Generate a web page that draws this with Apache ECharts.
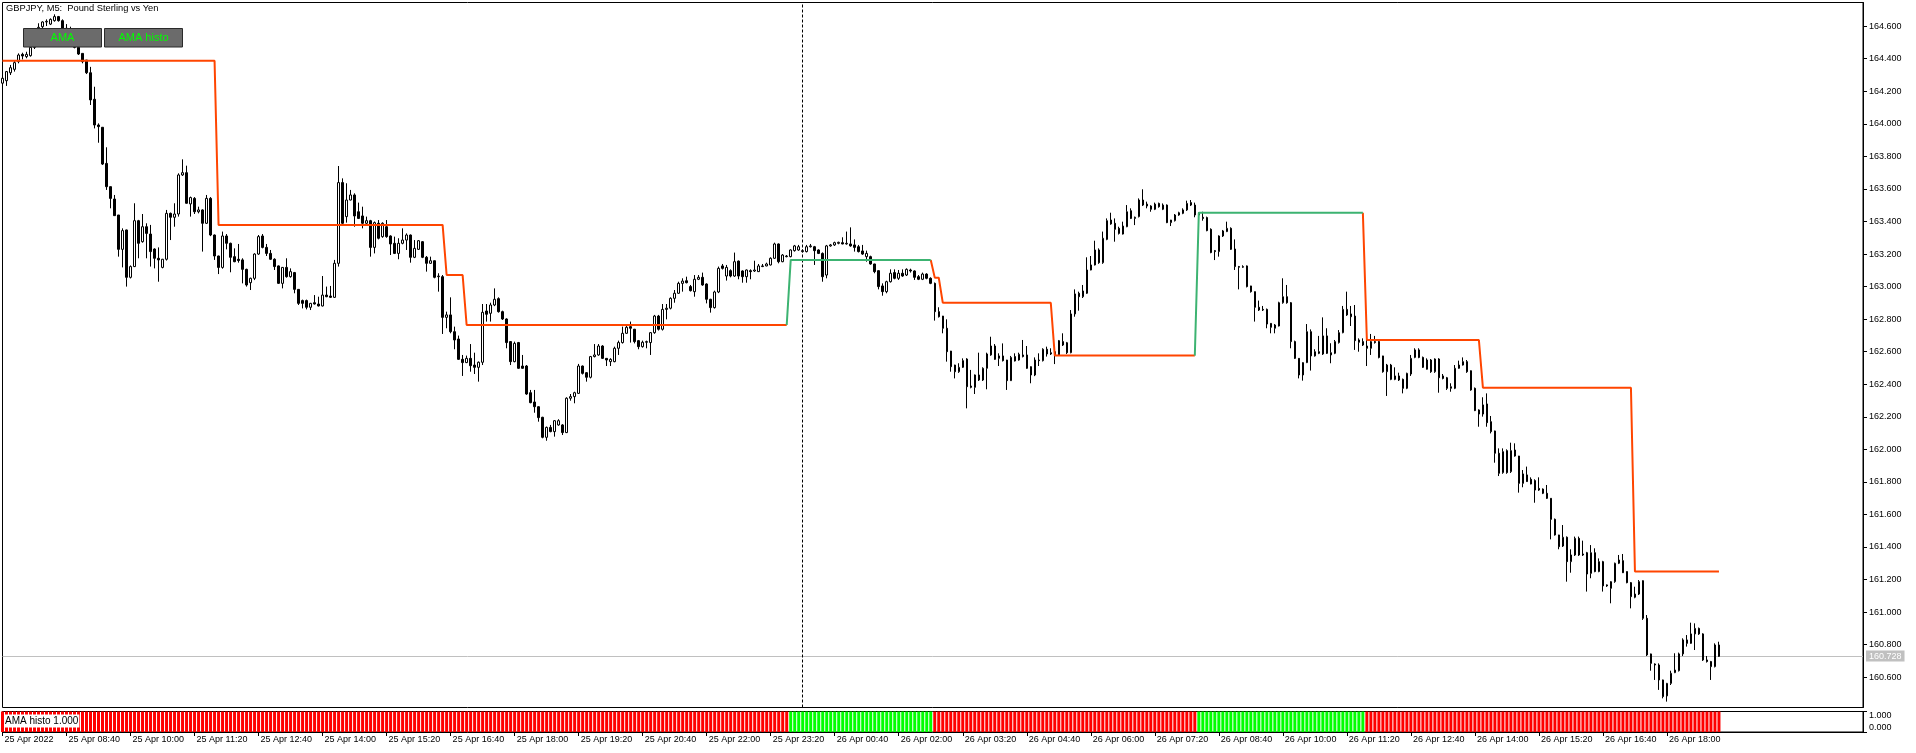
<!DOCTYPE html>
<html><head><meta charset="utf-8">
<script src="https://cdn.jsdelivr.net/npm/echarts@6/dist/echarts.min.js"></script>
<style>html,body{margin:0;padding:0;background:#fff;overflow:hidden}#c{width:1916px;height:753px}</style>
</head><body><div id="c"></div>
<script>
// ---- data (GBPJPY M5, one entry per bar) ----
const opens = [
164.250,164.265,164.314,164.335,164.382,164.427,164.413,164.419,164.470,164.577,
164.597,164.626,164.613,164.634,164.659,164.634,164.587,164.577,164.536,164.470,
164.433,164.392,164.314,164.151,163.993,163.979,163.757,163.614,163.538,163.440,
163.229,163.348,163.057,163.123,163.405,163.276,163.368,163.323,163.231,163.174,
163.118,163.168,163.450,163.426,163.446,163.686,163.700,163.508,163.542,163.460,
163.471,163.389,163.542,163.317,163.188,163.118,163.311,163.266,163.184,163.168,
163.164,163.106,163.024,163.051,163.200,163.311,163.241,163.204,163.168,163.127,
163.020,163.118,163.061,163.086,162.983,162.914,162.914,162.873,162.901,162.893,
162.881,162.948,162.942,162.934,163.143,163.639,163.430,163.532,163.563,163.460,
163.434,163.389,163.405,163.241,163.389,163.307,163.368,163.311,163.266,163.204,
163.266,163.286,163.317,163.180,163.229,163.276,163.180,163.143,163.159,163.061,
163.061,162.811,162.826,162.723,162.678,162.553,162.533,162.559,162.518,162.504,
162.535,162.850,162.836,162.887,162.926,162.846,162.801,162.662,162.539,162.656,
162.512,162.512,162.348,162.291,162.262,162.197,162.074,162.135,162.109,162.150,
162.150,162.103,162.314,162.324,162.344,162.512,162.471,162.443,162.570,162.580,
162.635,162.559,162.539,162.539,162.621,162.656,162.713,162.754,162.738,162.668,
162.631,162.658,162.656,162.717,162.819,162.738,162.860,162.867,162.928,162.959,
163.020,163.036,163.000,162.969,163.045,163.057,163.016,162.922,162.871,162.967,
163.127,163.065,163.098,163.065,163.157,163.096,163.061,163.098,163.096,163.092,
163.123,163.127,163.133,163.174,163.262,163.153,163.184,163.184,163.221,163.225,
163.215,163.215,163.245,163.245,163.225,163.204,163.071,163.250,163.256,163.266,
163.270,163.262,163.262,163.256,163.245,163.219,163.184,163.184,163.139,163.098,
163.004,162.969,163.030,163.086,163.051,163.082,163.071,163.102,163.096,163.061,
163.045,163.077,163.051,163.020,162.846,162.819,162.744,162.604,162.518,162.477,
162.504,162.555,162.389,162.381,162.457,162.426,162.498,162.580,162.635,162.559,
162.574,162.549,162.422,162.570,162.549,162.580,162.580,162.508,162.457,162.549,
162.545,162.615,162.586,162.600,162.580,162.662,162.655,162.594,162.832,162.959,
162.938,162.959,163.102,163.133,163.225,163.147,163.290,163.409,163.389,163.358,
163.323,163.368,163.466,163.419,163.430,163.532,163.507,163.495,163.475,163.511,
163.475,163.501,163.393,163.405,163.440,163.450,163.471,163.516,163.501,163.440,
163.426,163.424,163.352,163.221,163.215,163.311,163.338,163.358,163.231,163.123,
163.119,163.127,163.004,162.969,162.873,162.860,162.860,162.774,162.744,162.758,
162.901,162.938,162.901,162.662,162.559,162.457,162.533,162.723,162.574,162.600,
162.586,162.697,162.580,162.590,162.656,162.717,162.860,162.832,162.819,162.672,
162.662,162.635,162.621,162.662,162.662,162.574,162.477,162.518,162.451,162.451,
162.430,162.375,162.463,162.565,162.611,162.565,162.492,162.549,162.477,162.555,
162.451,162.440,162.375,162.375,162.498,162.518,162.539,162.483,162.375,162.242,
162.217,162.279,162.170,162.113,161.976,161.857,161.992,161.863,161.996,161.959,
161.791,161.843,161.816,161.808,161.760,161.756,161.730,161.699,161.570,161.474,
161.406,161.460,161.310,161.351,161.453,161.357,161.365,161.238,161.365,161.249,
161.310,161.167,161.146,161.187,161.300,161.316,161.249,161.181,161.091,161.111,
161.193,160.962,160.743,160.681,160.675,160.583,160.485,160.562,160.628,160.640,
160.743,160.829,160.808,160.866,160.900,160.866,160.706,160.696,160.665,160.798];
const closes = [
164.280,164.321,164.345,164.376,164.423,164.417,164.427,164.470,164.577,164.593,
164.626,164.630,164.642,164.659,164.634,164.587,164.577,164.536,164.470,164.429,
164.382,164.314,164.147,163.993,163.983,163.753,163.614,163.542,163.436,163.229,
163.344,163.057,163.123,163.405,163.266,163.368,163.327,163.215,163.174,163.164,
163.168,163.450,163.426,163.446,163.686,163.700,163.512,163.547,163.460,163.471,
163.389,163.542,163.317,163.188,163.118,163.311,163.266,163.180,163.153,163.160,
163.106,163.010,163.051,163.200,163.307,163.241,163.204,163.168,163.123,163.020,
163.118,163.061,163.092,162.983,162.897,162.897,162.873,162.897,162.893,162.881,
162.948,162.938,162.934,163.143,163.639,163.389,163.532,163.563,163.434,163.419,
163.389,163.405,163.241,163.393,163.297,163.389,163.307,163.262,163.204,163.266,
163.286,163.317,163.180,163.235,163.282,163.180,163.143,163.159,163.057,163.065,
162.811,162.826,162.723,162.672,162.553,162.533,162.559,162.514,162.504,162.535,
162.842,162.830,162.887,162.922,162.846,162.801,162.656,162.539,162.651,162.498,
162.498,162.340,162.287,162.262,162.195,162.074,162.135,162.109,162.176,162.176,
162.103,162.314,162.324,162.348,162.512,162.467,162.443,162.570,162.580,162.635,
162.559,162.549,162.553,162.621,162.656,162.713,162.750,162.744,162.662,162.631,
162.658,162.662,162.717,162.819,162.738,162.860,162.867,162.928,162.959,163.020,
163.034,163.024,162.975,163.045,163.057,163.010,162.922,162.871,162.967,163.112,
163.112,163.118,163.065,163.153,163.065,163.061,163.102,163.092,163.102,163.127,
163.127,163.139,163.174,163.262,163.153,163.194,163.188,163.225,163.250,163.245,
163.221,163.245,163.250,163.221,163.204,163.061,163.250,163.256,163.270,163.272,
163.262,163.266,163.250,163.241,163.215,163.200,163.204,163.139,163.092,163.000,
162.969,163.030,163.082,163.051,163.082,163.065,163.106,163.096,163.057,163.045,
163.077,163.051,163.020,162.846,162.815,162.744,162.600,162.508,162.477,162.504,
162.545,162.385,162.381,162.457,162.426,162.498,162.586,162.635,162.553,162.574,
162.545,162.422,162.565,162.543,162.584,162.570,162.498,162.457,162.549,162.545,
162.615,162.586,162.594,162.580,162.668,162.641,162.594,162.832,162.955,162.938,
162.973,163.102,163.133,163.225,163.147,163.297,163.405,163.385,163.352,163.327,
163.372,163.460,163.419,163.426,163.532,163.501,163.495,163.475,163.507,163.491,
163.501,163.393,163.409,163.440,163.454,163.471,163.511,163.501,163.440,163.450,
163.419,163.344,163.209,163.215,163.311,163.342,163.358,163.229,163.123,163.119,
163.123,163.000,162.969,162.873,162.856,162.856,162.770,162.750,162.764,162.901,
162.938,162.901,162.662,162.559,162.457,162.533,162.723,162.574,162.600,162.590,
162.697,162.590,162.594,162.662,162.717,162.860,162.826,162.815,162.668,162.658,
162.641,162.621,162.662,162.656,162.565,162.477,162.518,162.430,162.430,162.426,
162.375,162.467,162.559,162.611,162.565,162.504,162.549,162.477,162.555,162.440,
162.436,162.375,162.385,162.498,162.518,162.539,162.477,162.365,162.238,162.217,
162.273,162.164,162.109,161.976,161.853,161.986,161.857,161.992,161.959,161.791,
161.849,161.802,161.787,161.750,161.750,161.730,161.699,161.570,161.474,161.402,
161.460,161.310,161.351,161.453,161.351,161.351,161.234,161.365,161.249,161.310,
161.161,161.161,161.187,161.300,161.320,161.242,161.181,161.095,161.111,161.187,
160.962,160.737,160.685,160.675,160.583,160.481,160.562,160.624,160.644,160.743,
160.829,160.808,160.866,160.900,160.866,160.706,160.696,160.665,160.798,160.728];
const lows = [
164.230,164.233,164.300,164.321,164.372,164.396,164.403,164.413,164.460,164.556,
164.587,164.601,164.607,164.628,164.628,164.581,164.556,164.525,164.464,164.423,
164.372,164.306,164.116,163.972,163.884,163.747,163.594,163.481,163.436,163.184,
163.118,163.000,163.050,163.120,163.174,163.270,163.174,163.123,163.112,163.030,
163.112,163.160,163.286,163.368,163.430,163.680,163.510,163.430,163.446,163.450,
163.215,163.385,163.310,163.164,163.077,163.110,163.229,163.088,163.150,163.147,
163.020,163.000,162.979,163.040,163.195,163.235,163.188,163.164,163.102,163.016,
162.989,163.055,163.055,162.959,162.887,162.866,162.860,162.856,162.890,162.878,
162.878,162.935,162.930,162.930,163.123,163.385,163.393,163.530,163.368,163.415,
163.358,163.380,163.184,163.204,163.290,163.300,163.300,163.194,163.200,163.168,
163.260,163.225,163.147,163.175,163.225,163.175,163.092,163.140,163.051,162.969,
162.709,162.744,162.713,162.615,162.550,162.451,162.530,162.477,162.463,162.416,
162.518,162.785,162.785,162.880,162.840,162.795,162.621,162.518,162.535,162.495,
162.495,162.335,162.283,162.225,162.170,162.068,162.053,162.105,162.078,162.145,
162.088,162.100,162.299,162.283,162.340,162.460,162.416,162.436,162.565,162.575,
162.555,162.512,162.512,162.535,162.580,162.650,162.710,162.656,162.651,162.615,
162.625,162.621,162.580,162.710,162.730,162.730,162.799,162.860,162.901,162.955,
162.969,163.020,162.970,162.938,163.040,163.005,162.897,162.840,162.865,162.960,
163.105,163.037,163.057,163.060,163.045,163.024,163.024,163.045,163.090,163.090,
163.120,163.125,163.130,163.170,163.143,163.150,163.180,163.180,163.215,163.220,
163.210,163.210,163.240,163.133,163.200,163.030,163.051,163.245,163.250,163.260,
163.260,163.258,163.245,163.215,163.210,163.195,163.153,163.135,163.082,162.983,
162.944,162.959,163.025,163.045,163.041,163.060,163.065,163.086,163.041,163.040,
163.040,163.045,163.015,162.791,162.810,162.713,162.539,162.477,162.436,162.470,
162.500,162.252,162.375,162.340,162.420,162.420,162.369,162.575,162.550,162.512,
162.540,162.365,162.420,162.540,162.545,162.565,162.495,162.406,162.450,162.512,
162.540,162.570,162.580,162.524,162.575,162.635,162.586,162.590,162.815,162.852,
162.930,162.955,163.100,163.130,163.140,163.140,163.285,163.380,163.276,163.320,
163.320,163.365,163.415,163.378,163.425,163.495,163.481,163.460,163.470,163.485,
163.470,163.390,163.372,163.400,163.435,163.445,163.465,163.495,163.426,163.435,
163.405,163.340,163.205,163.163,163.184,163.305,163.335,163.225,163.102,162.983,
163.115,162.995,162.963,162.785,162.850,162.850,162.744,162.713,162.713,162.755,
162.895,162.895,162.621,162.555,162.436,162.422,162.530,162.484,162.570,162.585,
162.580,162.586,162.529,162.585,162.650,162.713,162.820,162.758,162.611,162.600,
162.635,162.512,162.580,162.650,162.559,162.471,162.328,162.425,162.425,162.420,
162.344,162.370,162.451,162.560,162.560,162.500,162.490,162.470,162.470,162.348,
162.430,162.365,162.354,162.370,162.495,162.515,162.470,162.360,162.235,162.139,
162.201,162.139,162.098,161.918,161.836,161.850,161.850,161.855,161.955,161.734,
161.767,161.800,161.785,161.672,161.745,161.725,161.695,161.447,161.470,161.386,
161.400,161.187,161.242,161.345,161.345,161.345,161.126,161.208,161.245,161.245,
161.126,161.155,161.054,161.180,161.295,161.240,161.177,161.023,161.085,161.105,
160.952,160.730,160.640,160.583,160.522,160.470,160.450,160.552,160.625,160.635,
160.730,160.788,160.805,160.767,160.860,160.700,160.690,160.583,160.660,160.725];
const highs = [
164.300,164.325,164.362,164.388,164.433,164.437,164.443,164.478,164.587,164.618,
164.630,164.642,164.648,164.673,164.663,164.642,164.613,164.597,164.566,164.484,
164.433,164.392,164.350,164.228,164.003,163.980,163.856,163.614,163.563,163.440,
163.358,163.350,163.130,163.512,163.410,163.446,163.389,163.379,163.235,163.241,
163.170,163.471,163.455,163.512,163.696,163.782,163.743,163.553,163.550,163.491,
163.475,163.563,163.550,163.320,163.190,163.338,163.323,163.270,163.235,163.262,
163.174,163.110,163.055,163.205,163.317,163.323,163.262,163.225,163.174,163.130,
163.120,163.174,163.112,163.090,162.985,162.920,162.920,162.900,162.948,162.938,
163.065,163.000,163.004,163.164,163.741,163.665,163.635,163.594,163.573,163.516,
163.491,163.430,163.410,163.400,163.409,163.395,163.409,163.315,163.307,163.297,
163.358,163.327,163.320,163.286,163.286,163.280,163.188,163.184,163.160,163.082,
163.071,162.846,162.934,162.754,162.699,162.580,162.576,162.647,162.594,162.540,
162.893,162.893,162.901,162.989,162.934,162.852,162.805,162.665,162.662,162.660,
162.580,162.518,162.365,162.365,162.265,162.200,162.140,162.150,162.180,162.185,
162.155,162.320,162.340,162.354,162.525,162.515,162.475,162.574,162.647,162.647,
162.640,162.560,162.560,162.631,162.668,162.754,162.764,162.785,162.740,162.672,
162.668,162.668,162.720,162.826,162.826,162.893,162.893,162.934,162.979,163.030,
163.051,163.061,163.010,163.071,163.071,163.086,163.020,162.925,162.975,163.123,
163.139,163.133,163.106,163.209,163.160,163.100,163.105,163.106,163.159,163.139,
163.139,163.147,163.180,163.270,163.265,163.200,163.194,163.229,163.256,163.256,
163.229,163.256,163.262,163.250,163.229,163.210,163.256,163.262,163.276,163.276,
163.303,163.338,163.364,163.290,163.256,163.256,163.221,163.190,163.140,163.100,
163.020,163.036,163.106,163.106,163.102,163.106,163.112,163.110,163.100,163.071,
163.086,163.082,163.057,163.025,162.873,162.820,162.799,162.605,162.520,162.529,
162.559,162.560,162.488,162.460,162.594,162.504,162.594,162.692,162.647,162.590,
162.651,162.550,162.574,162.590,162.594,162.672,162.635,162.510,162.565,162.590,
162.621,162.631,162.621,162.605,162.672,162.713,162.660,162.856,162.983,162.969,
163.010,163.180,163.188,163.282,163.235,163.338,163.419,163.454,163.419,163.368,
163.399,163.501,163.481,163.430,163.542,163.598,163.522,163.500,163.516,163.516,
163.511,163.505,163.410,163.446,163.460,163.481,163.528,163.532,163.516,163.455,
163.460,163.430,163.358,163.225,163.315,163.348,163.399,163.364,163.290,163.127,
163.131,163.130,163.005,162.970,162.914,162.881,162.865,162.775,162.770,162.907,
163.051,163.010,162.905,162.668,162.560,162.535,162.770,162.737,162.615,162.697,
162.811,162.744,162.652,162.672,162.733,162.881,162.969,162.881,162.887,162.682,
162.682,162.703,162.709,162.697,162.672,162.575,162.525,162.525,162.504,162.471,
162.435,162.471,162.580,162.621,162.621,162.570,162.559,162.555,162.559,162.560,
162.463,162.445,162.406,162.518,162.545,162.565,162.549,162.485,162.380,162.246,
162.320,162.344,162.205,162.115,162.006,162.006,162.000,162.041,162.037,161.960,
161.873,161.894,161.828,161.816,161.828,161.760,161.781,161.700,161.575,161.475,
161.535,161.465,161.386,161.464,161.464,161.439,161.370,161.412,161.392,161.330,
161.315,161.170,161.190,161.304,161.351,161.357,161.250,161.185,161.156,161.197,
161.195,160.982,160.745,160.685,160.685,160.585,160.565,160.640,160.747,160.751,
160.839,160.859,160.935,160.931,160.905,160.870,160.730,160.700,160.808,160.818];

// AMA level as [value, number of bars] runs, and trend colour runs
const amaRuns = [[164.388,54],[163.379,57],[163.071,5],[162.764,81],[163.164,36],[163.055,2],
                 [162.901,28],[162.576,36],[163.454,42],[162.672,29],[162.379,38],[161.249,22]];
const trendRuns = [['down',197],['up',36],['down',66],['up',42],['down',89]];

const yTicks = [160.6,160.8,161.0,161.2,161.4,161.6,161.8,162.0,162.2,162.4,162.6,
                162.8,163.0,163.2,163.4,163.6,163.8,164.0,164.2,164.4,164.6];
const lastPrice = 160.728;
const firstLabel = '25 Apr 2022';
const startDay = 25, startMinute = 7*60 + 20, barMinutes = 5;
const totalSlots = 466;            // bars + empty right margin (chart shift)
const labelEvery = 16;

// ---- build ----
const N = closes.length;
const pad = n => (n < 10 ? '0' : '') + n;
const times = [];
for (let i = 0; i < totalSlots; i++) {
  if (i < N) {
    const m = startMinute + i * barMinutes;
    const d = startDay + Math.floor(m / 1440), hm = m % 1440;
    times.push(d + ' Apr ' + pad(Math.floor(hm / 60)) + ':' + pad(hm % 60));
  } else times.push('empty' + i);
}
const sepIndex = times.indexOf('26 Apr 00:00');
const candles = opens.map((o, i) => [o, closes[i], lows[i], highs[i]]);
const ama = [], trend = [];
amaRuns.forEach(([v, n]) => { for (let k = 0; k < n; k++) ama.push(v); });
trendRuns.forEach(([t, n]) => { for (let k = 0; k < n; k++) trend.push(t); });
const amaDown = ama.map((v, i) => (trend[i] === 'down' || trend[i + 1] === 'down') ? v : null);
const amaUp = ama.map((v, i) => (trend[i] === 'up' || trend[i + 1] === 'up') ? v : null);
const histo = trend.map(t => ({ value: 1, itemStyle: { color: t === 'up' ? '#00FF00' : '#FF0000' } }));

const FONT = 'Liberation Sans';
const showLbl = (idx) => idx % labelEvery === 0 && idx < N;
// layout: main pane 2.5..707.5, indicator pane 711.5..732
const mainTop = 2.5, mainH = 705, subTop = 711.5, subH = 20.5, gLeft = 2.5, gW = 1860.5;
const yMax = 164.6 + (26.2 - mainTop) / 162.75;
const yMin = 164.6 - (mainTop + mainH - 26.2) / 162.75;

const chart = echarts.init(document.getElementById('c'), null, { renderer: 'canvas' });
chart.setOption({
  animation: false,
  backgroundColor: '#fff',
  textStyle: { fontFamily: FONT },
  title: { text: 'GBPJPY, M5:  Pound Sterling vs Yen', left: 6, top: 4, padding: 0,
           textStyle: { fontSize: 9.3, fontWeight: 'normal', color: '#000', fontFamily: FONT } },
  grid: [
    { left: gLeft, top: mainTop, width: gW, height: mainH, show: true, borderColor: '#000', borderWidth: 1 },
    { left: gLeft, top: subTop, width: gW, height: subH, show: true, borderColor: '#000', borderWidth: 1 }
  ],
  xAxis: [
    { type: 'category', gridIndex: 0, data: times, boundaryGap: false, show: false },
    { type: 'category', gridIndex: 1, data: times, boundaryGap: false,
      axisLine: { show: true, lineStyle: { color: '#000' } },
      axisTick: { show: true, interval: showLbl, length: 4, lineStyle: { color: '#000' } },
      axisLabel: { interval: showLbl, formatter: (v, i) => i === 0 ? firstLabel : v,
                   fontSize: 9, color: '#000', align: 'left', margin: 3, padding: [0, 0, 0, 2], fontFamily: FONT },
      splitLine: { show: false } }
  ],
  yAxis: [
    { type: 'value', gridIndex: 0, position: 'right', min: yMin, max: yMax, splitLine: { show: false },
      axisLine: { show: true, lineStyle: { color: '#000' } },
      axisTick: { show: true, customValues: yTicks, length: 4, lineStyle: { color: '#000' } },
      axisLabel: { customValues: yTicks, formatter: v => v.toFixed(3), fontSize: 9, color: '#000', margin: 6, fontFamily: FONT } },
    { type: 'value', gridIndex: 1, position: 'right', min: 0, max: 1, splitLine: { show: false },
      axisLine: { show: true, lineStyle: { color: '#000' } },
      axisTick: { show: true, customValues: [0, 1], length: 4, lineStyle: { color: '#000' } },
      axisLabel: { customValues: [0.24, 0.78], formatter: v => v > 0.5 ? '1.000' : '0.000',
                   fontSize: 9, color: '#000', margin: 6, fontFamily: FONT } }
  ],
  series: [
    { type: 'candlestick', xAxisIndex: 0, yAxisIndex: 0, data: candles, barWidth: 2, z: 2,
      itemStyle: { color: '#ffffff', color0: '#000000', borderColor: '#000000', borderColor0: '#000000', borderWidth: 1 },
      markLine: { silent: true, symbol: ['none', 'none'], animation: false, z: 1,
        data: [
          { yAxis: lastPrice, lineStyle: { color: '#C0C0C0', width: 1, type: 'solid' },
            label: { show: true, position: 'end', formatter: lastPrice.toFixed(3), color: '#fff',
                     backgroundColor: '#C0C0C0', padding: [1, 3, 1, 3], fontSize: 9, distance: 3, fontFamily: FONT } },
          { xAxis: sepIndex, lineStyle: { color: '#000', width: 1, type: [3, 2] }, label: { show: false } }
        ] } },
    { type: 'line', xAxisIndex: 0, yAxisIndex: 0, data: amaDown, symbol: 'none', showSymbol: false, z: 4,
      connectNulls: false, lineStyle: { color: '#FF4500', width: 2 }, itemStyle: { color: '#FF4500' } },
    { type: 'line', xAxisIndex: 0, yAxisIndex: 0, data: amaUp, symbol: 'none', showSymbol: false, z: 4,
      connectNulls: false, lineStyle: { color: '#3CB371', width: 2 }, itemStyle: { color: '#3CB371' } },
    { type: 'bar', xAxisIndex: 1, yAxisIndex: 1, data: histo, barWidth: 3, z: 2 }
  ],
  graphic: [
    { type: 'rect', z: 100, shape: { x: 23.5, y: 28.5, width: 78, height: 18.5 },
      style: { fill: '#6b6b6b', stroke: '#2a2a2a', lineWidth: 1 } },
    { type: 'text', z: 101, x: 62.5, y: 38, style: { text: 'AMA', fill: '#00ff00', font: '11px "Liberation Sans"', align: 'center', verticalAlign: 'middle' } },
    { type: 'rect', z: 100, shape: { x: 104.5, y: 28.5, width: 78, height: 18.5 },
      style: { fill: '#6b6b6b', stroke: '#2a2a2a', lineWidth: 1 } },
    { type: 'text', z: 101, x: 143.5, y: 38, style: { text: 'AMA histo', fill: '#00ff00', font: '11px "Liberation Sans"', align: 'center', verticalAlign: 'middle' } },
    { type: 'text', z: 101, x: 4, y: 721, style: { text: 'AMA histo 1.000', fill: '#000', font: '10px "Liberation Sans"',
      verticalAlign: 'middle', backgroundColor: '#ffffff', padding: [2, 1, 1, 1] } }
  ]
});
</script></body></html>
